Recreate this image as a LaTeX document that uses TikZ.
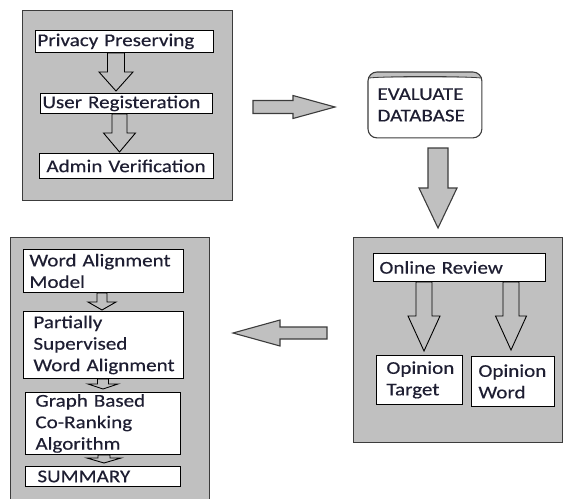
\documentclass[tikz,border=0pt]{standalone}
\usepackage{fontspec}
\setmainfont{Carlito}[FakeStretch=1.17,FakeBold=0.4]
\usetikzlibrary{calc}
\definecolor{panelgray}{HTML}{C0C0C0}
\definecolor{edge}{HTML}{3C3C3C}
\definecolor{txt}{HTML}{1E1E32}
\newcommand{\blockarrow}[6]{%
  \coordinate (ba-s) at (#2);
  \coordinate (ba-t) at (#3);
  \coordinate (ba-h) at ($(ba-t)!#6!(ba-s)$);
  \draw[#1] ($(ba-s)!#4!90:(ba-t)$) -- ($(ba-h)!#4!90:(ba-t)$) -- ($(ba-h)!#5!90:(ba-t)$) -- (ba-t)
    -- ($(ba-h)!#5!-90:(ba-t)$) -- ($(ba-h)!#4!-90:(ba-t)$) -- ($(ba-s)!#4!-90:(ba-t)$) -- cycle;
}
\begin{document}
\begin{tikzpicture}[x=1pt,y=-1pt,
  panel/.style={draw=edge, fill=panelgray, line width=1.1pt, anchor=north west, inner sep=0pt},
  box/.style={draw=black, fill=white, line width=0.9pt, inner ysep=0pt, align=left,
    anchor=north west, font=\fontsize{18}{21.5}\selectfont, text=txt},
  bx/.style n args={4}{minimum width=#1pt, minimum height=#2pt, inner xsep=#3pt, text width=#4pt},
  outarrow/.style={draw=edge, fill=panelgray, line width=1.1pt, line join=miter},
  inarrow/.style={draw=black, line width=0.9pt, line join=miter}]
\useasboundingbox (0,0) rectangle (564,498);
\clip (0,0) rectangle (564,498);

% panels
\node[panel, minimum width=210pt, minimum height=190pt] (p1) at (22,10) {};
\node[panel, minimum width=209pt, minimum height=205pt] (p2) at (353,237) {};
\node[panel, minimum width=199pt, minimum height=270pt] (p3) at (10,237) {};

% top-left panel
\node[box, bx={178}{22}{2}{174}] (pp) at (35,30) {\mbox{Privacy Preserving}};
\node[box, bx={172}{20}{2}{168}] (ur) at (40,93) {\mbox{User Registeration}};
\node[box, bx={174}{25}{7}{160}] (av) at (39,153) {\mbox{Admin Verification}};
\coordinate (t1) at (116,91);
\coordinate (t2) at (119.5,152);
\blockarrow{inarrow}{t1 |- pp.south}{t1}{8.5pt}{17pt}{19pt}
\blockarrow{inarrow}{t2 |- ur.south}{t2}{7.5pt}{16pt}{19pt}

% evaluate database
\node[box, draw=none, rounded corners=9pt, bx={113}{65}{9}{95}] (ev) at (368,72) {\mbox{EVALUATE}\\\mbox{DATABASE}};
\begin{scope}
  \clip[rounded corners=9pt] (ev.south west) rectangle (ev.north east);
  \fill[panelgray] (ev.north west) rectangle ($(ev.north east)+(0,6)$);
\end{scope}
\draw[edge, line width=0.8pt] ($(ev.north west)+(1,6)$) .. controls ($(ev.north west)+(20,4)$) and ($(ev.north east)+(-20,4)$) .. ($(ev.north east)+(-1,6)$);
\draw[edge, line width=1.1pt, rounded corners=9pt] (ev.south west) rectangle (ev.north east);

% right panel
\node[box, bx={172}{28}{6}{160}] (orv) at (373,253) {\mbox{Online Review}};
\node[box, bx={86}{49}{10}{66}] (ot) at (376,355) {\mbox{Opinion}\\\mbox{Target}};
\node[box, bx={83}{50}{7}{69}] (ow) at (471,356) {\mbox{Opinion}\\\mbox{Word}};
\coordinate (t6) at (424,351);
\coordinate (t7) at (511,350);
\blockarrow{inarrow}{t6 |- orv.south}{t6}{8pt}{16pt}{35pt}
\blockarrow{inarrow}{t7 |- orv.south}{t7}{8pt}{15.5pt}{34pt}

% bottom-left panel
\node[box, bx={160}{43}{6}{148}] (wam) at (23,249) {\mbox{Word Alignment}\\\mbox{Model}};
\node[box, bx={160}{67}{10}{140}] (psw) at (23,311) {\mbox{Partially}\\\mbox{Supervised}\\\mbox{Word Alignment}};
\node[box, bx={155}{62}{10}{135}] (gb) at (25,392) {\mbox{Graph Based}\\\mbox{Co-Ranking}\\\mbox{Algorithm}};
\node[box, bx={155}{20}{12}{131}] (sum) at (25,466) {\mbox{SUMMARY}};
\coordinate (t8) at (102,310);
\coordinate (t9) at (103,389);
\coordinate (t10) at (104,463);
\blockarrow{inarrow}{t8 |- wam.south}{t8}{5pt}{14pt}{8pt}
\blockarrow{inarrow}{t9 |- psw.south}{t9}{5.5pt}{15pt}{5pt}
\blockarrow{inarrow}{t10 |- gb.south}{t10}{6pt}{17pt}{5pt}

% big arrows between panels
\coordinate (a3s) at (253,107);
\coordinate (a3t) at (335,107);
\coordinate (a4s) at (438,148);
\coordinate (a4t) at (438,228);
\coordinate (a5s) at (327,333);
\coordinate (a5t) at (233,333);
\blockarrow{outarrow}{a3s}{a3t}{6.5pt}{11.5pt}{42pt}
\blockarrow{outarrow}{a4s}{a4t}{10pt}{19pt}{40pt}
\blockarrow{outarrow}{a5s}{a5t}{6pt}{13pt}{47pt}
\end{tikzpicture}
\end{document}
